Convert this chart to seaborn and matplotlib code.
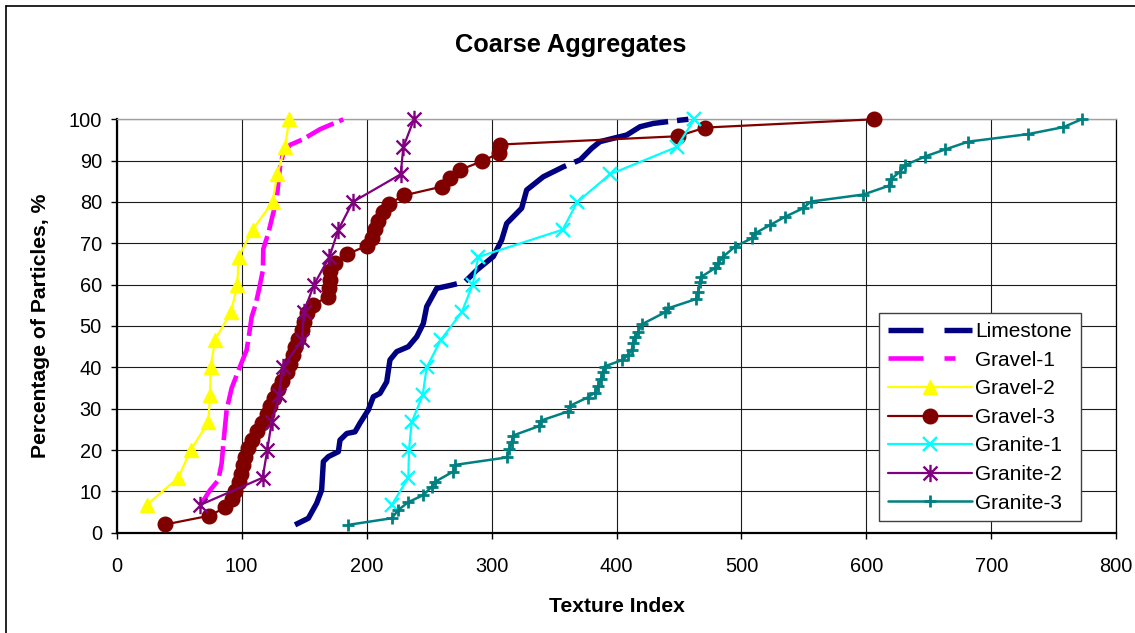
import numpy as np
import pandas as pd
import matplotlib
matplotlib.use("Agg")
import matplotlib.pyplot as plt
import seaborn as sns
from matplotlib.lines import Line2D
from matplotlib.path import Path

# ---------------- data ----------------
limestone_x = [142.7, 153.4, 160.0, 164.0, 165.4, 169.4, 177.4, 178.7, 184.1, 190.7,
               194.7, 201.4, 205.4, 210.7, 216.1, 218.7, 224.1, 233.4, 240.1, 245.4,
               248.1, 256.1, 268.1, 278.8, 288.1, 301.4, 308.1, 312.1, 324.1, 328.1,
               341.4, 357.4, 371.0, 380.2, 386.8, 397.4, 408.2, 418.8, 429.5, 448.2, 457.5]
limestone_y = [1.9, 3.5, 7.1, 10.3, 17.2, 18.4, 19.6, 22.4, 24.0, 24.4,
               26.5, 29.7, 32.9, 33.7, 36.5, 41.8, 43.8, 45.0, 47.4, 50.6,
               54.7, 59.1, 59.9, 60.7, 63.5, 66.8, 70.8, 74.8, 78.5, 82.9,
               86.1, 88.5, 90.2, 93.0, 94.6, 95.4, 96.2, 98.2, 99.0, 99.7, 100.0]

gravel1_x = [66.7, 74.7, 81.3, 84.0, 85.5, 88.0, 92.0, 98.7, 104.0, 106.0, 108.0, 111.0,
             114.0, 117.0, 117.3, 121.3, 125.0, 128.0, 129.3, 130.7, 133.3, 138.7,
             149.3, 162.7, 181.4]
gravel1_y = [6.5, 10.3, 12.7, 16.8, 22.0, 29.7, 35.0, 40.2, 44.2, 48.0, 52.2, 55.0,
             59.0, 63.5, 68.6, 72.4, 77.0, 80.5, 84.5, 88.5, 91.8, 93.8,
             95.2, 97.6, 100.0]

y15 = [6.7, 13.3, 20.0, 26.7, 33.3, 40.0, 46.7, 53.3, 60.0, 66.7, 73.3, 80.0, 86.7, 93.3, 100.0]

gravel2_x = [24.0, 49.3, 59.2, 73.3, 74.7, 75.2, 78.7, 91.5, 96.5, 97.6, 108.8, 124.8,
             128.5, 134.7, 138.1]
gravel2_y = y15

gravel3_x = [39, 74, 87, 92.5, 95, 97.5, 99.5, 101, 102.7, 105, 108, 112, 116, 120, 123,
             126, 129, 132, 136, 138.5, 141, 143, 145, 148, 150, 152, 157, 169, 170,
             170.5, 171, 175, 184, 200, 204, 207, 209, 213, 218, 230, 260, 267, 275,
             292, 306, 307, 449, 471, 606]
gravel3_y = [2.0, 4.1, 6.1, 8.2, 10.2, 12.2, 14.3, 16.3, 18.4, 20.4, 22.4, 24.5, 26.5,
             28.6, 30.6, 32.7, 34.7, 36.7, 38.8, 40.8, 42.9, 44.9, 46.9, 49.0, 51.0,
             53.1, 55.1, 57.1, 59.2, 61.2, 63.3, 65.3, 67.3, 69.4, 71.4, 73.5, 75.5,
             77.6, 79.6, 81.6, 83.7, 85.7, 87.8, 89.8, 91.8, 93.9, 95.9, 98.0, 100.0]

granite1_x = [220.1, 233.4, 233.9, 236.1, 244.9, 248.1, 259.5, 276.1, 284.9, 289.4,
              356.9, 368.6, 394.8, 448.2, 462.3]
granite1_y = y15

granite2_x = [66.7, 116.8, 120.5, 124.0, 129.9, 132.8, 148.5, 149.7, 157.9, 170.2,
              177.4, 188.9, 227.3, 229.4, 237.9]
granite2_y = y15

granite3_x = [185.4, 220.1, 225.4, 233.4, 245.4, 252.1, 254.7, 269.4, 270.7, 312.1,
              314.1, 316.1, 317.2, 338.1, 339.4, 361.0, 362.8, 376.8, 382.8, 385.4,
              387.5, 389.2, 390.4, 404.8, 409.4, 412.1, 413.4, 414.8, 417.5, 420.2,
              438.8, 441.5, 463.5, 465.5, 466.8, 467.9, 478.8, 481.5, 485.5, 494.8,
              508.2, 510.8, 522.8, 534.8, 549.5, 555.5, 597.5, 617.8, 619.5, 626.9,
              630.9, 646.9, 663.0, 681.6, 729.1, 757.6, 772.3]
granite3_y = [1.9, 3.5, 5.5, 7.4, 9.1, 11.1, 12.3, 14.8, 16.4, 18.2,
              20.2, 21.9, 23.5, 25.8, 27.1, 29.3, 30.7, 32.7, 33.9, 35.5,
              37.2, 38.8, 40.2, 41.8, 43.0, 44.2, 45.8, 47.4, 48.6, 50.4,
              53.3, 54.3, 56.5, 58.3, 60.7, 61.9, 64.0, 65.2, 66.8, 69.2,
              71.2, 72.4, 74.4, 76.4, 78.5, 80.1, 81.8, 83.9, 85.5, 87.3,
              88.9, 91.0, 92.7, 94.6, 96.4, 98.1, 100.0]

series_names = ["Limestone", "Gravel-1", "Gravel-2", "Gravel-3",
                "Granite-1", "Granite-2", "Granite-3"]
x_ticks = [0, 100, 200, 300, 400, 500, 600, 700, 800]
y_ticks = [0, 10, 20, 30, 40, 50, 60, 70, 80, 90, 100]

# ---------------- styling ----------------
sns.set_theme(style="white")
plt.rcParams['font.family'] = ['Liberation Sans', 'DejaVu Sans']
plt.rcParams['lines.scale_dashes'] = False

W, H = 1135, 633
fig = plt.figure(figsize=(W / 100, H / 100), dpi=100)
fig.patch.set_facecolor("white")
ax_l, ax_r, ax_t, ax_b = 116.7, 1116.3, 119.3, 532.7
ax = fig.add_axes([ax_l / W, 1 - ax_b / H, (ax_r - ax_l) / W, (ax_b - ax_t) / H])
ax.set_facecolor("white")

asterisk = Path([(0, -1), (0, 1), (-0.8, -0.8), (0.8, 0.8), (-0.8, 0.8), (0.8, -0.8)],
                [Path.MOVETO, Path.LINETO, Path.MOVETO, Path.LINETO, Path.MOVETO, Path.LINETO])

px = 72 / 100.0  # points per pixel

styles = {
    "Limestone": dict(color="#000080", linewidth=3.9,
                      linestyle=(0, (315 * px, 9 * px, 160 * px, 9 * px, 105 * px, 9 * px, 300 * px, 9 * px))),
    "Gravel-1": dict(color="#FF00FF", linewidth=3.3, linestyle=(0, (30 * px, 6 * px))),
    "Gravel-2": dict(color="#FFFF00", linewidth=1.6, marker="^", markersize=9.6,
                     markerfacecolor="#FFFF00", markeredgecolor="#FFFF00", markeredgewidth=1),
    "Gravel-3": dict(color="#800000", linewidth=1.6, marker="o", markersize=10.5,
                     markerfacecolor="#800000", markeredgecolor="#800000", markeredgewidth=1),
    "Granite-1": dict(color="#00FFFF", linewidth=1.6, marker="x", markersize=9.4,
                      markerfacecolor="none", markeredgecolor="#00FFFF", markeredgewidth=1.7),
    "Granite-2": dict(color="#800080", linewidth=1.6, marker=asterisk, markersize=12.5,
                      markerfacecolor="none", markeredgecolor="#800080", markeredgewidth=1.7),
    "Granite-3": dict(color="#008080", linewidth=1.8, marker="+", markersize=9.0,
                      markerfacecolor="none", markeredgecolor="#008080", markeredgewidth=2.0),
}

data = {
    "Limestone": (limestone_x, limestone_y),
    "Gravel-1": (gravel1_x, gravel1_y),
    "Gravel-2": (gravel2_x, gravel2_y),
    "Gravel-3": (gravel3_x, gravel3_y),
    "Granite-1": (granite1_x, granite1_y),
    "Granite-2": (granite2_x, granite2_y),
    "Granite-3": (granite3_x, granite3_y),
}

for i, name in enumerate(series_names):
    xs, ys = data[name]
    df = pd.DataFrame({"Texture Index": xs, "Percentage": ys})
    sns.lineplot(data=df, x="Texture Index", y="Percentage", sort=False, estimator=None,
                 ax=ax, legend=False, clip_on=False, zorder=3 + i, **styles[name])

ax.set_xlim(0, 800)
ax.set_ylim(0, 100)
ax.set_xticks(x_ticks)
ax.set_yticks(y_ticks)
ax.set_xticklabels([str(v) for v in x_ticks])
ax.set_yticklabels([str(v) for v in y_ticks])
ax.set_xlabel("")
ax.set_ylabel("")
ax.set_axisbelow(True)
ax.grid(True, color="#1a1a1a", linewidth=0.8)

for s in ["left", "bottom"]:
    ax.spines[s].set_color("black")
    ax.spines[s].set_linewidth(1.6)
ax.spines["right"].set_color("black")
ax.spines["right"].set_linewidth(0.9)
ax.spines["top"].set_color("#a0a0a0")
ax.spines["top"].set_linewidth(1.0)

ax.tick_params(axis="both", direction="out", length=4.6, width=1.0, color="black",
               labelsize=14.4, labelcolor="black", bottom=True, left=True)
ax.tick_params(axis="x", pad=13)
ax.tick_params(axis="y", pad=6)

# legend with handles in the reference's legend style
leg_handles = []
for name in series_names:
    st = dict(styles[name])
    if name == "Limestone":
        st["linestyle"] = (0, (35 * px, 21 * px))
    elif name == "Gravel-1":
        st["linestyle"] = (0, (35 * px, 21 * px, 11 * px, 21 * px))
    leg_handles.append(Line2D([], [], **st))
leg = ax.legend(leg_handles, series_names, loc="upper left",
                bbox_to_anchor=((879 - ax_l) / (ax_r - ax_l), (ax_b - 313.3) / (ax_b - ax_t)),
                borderaxespad=0, fontsize=15, frameon=True, fancybox=False, shadow=False,
                handlelength=4.05, handletextpad=0.15, labelspacing=0.46, borderpad=0.42,
                framealpha=1)
leg.get_frame().set_edgecolor("#404040")
leg.get_frame().set_linewidth(1.0)
leg.set_zorder(20)
for t in leg.get_texts():
    t.set_color("black")

# titles / labels
fig.text(571 / W, 1 - 45 / H, "Coarse Aggregates", ha="center", va="center",
         fontsize=18.3, fontweight="bold", color="black")
fig.text(617 / W, 1 - 607 / H, "Texture Index", ha="center", va="center",
         fontsize=15.2, fontweight="bold", color="black")
fig.text(40 / W, 1 - 326 / H, "Percentage of Particles, %", ha="center", va="center",
         rotation=90, fontsize=15.2, fontweight="bold", color="black")

# chart-area border (top and left edges visible in the reference)
fig.add_artist(Line2D([6 / W, 1.0], [1 - 6.3 / H, 1 - 6.3 / H], transform=fig.transFigure,
                      color="black", linewidth=1.2))
fig.add_artist(Line2D([6 / W, 6 / W], [1 - 6.3 / H, 0.0], transform=fig.transFigure,
                      color="black", linewidth=1.2))

fig.savefig("out.png", dpi=100, facecolor="white")
